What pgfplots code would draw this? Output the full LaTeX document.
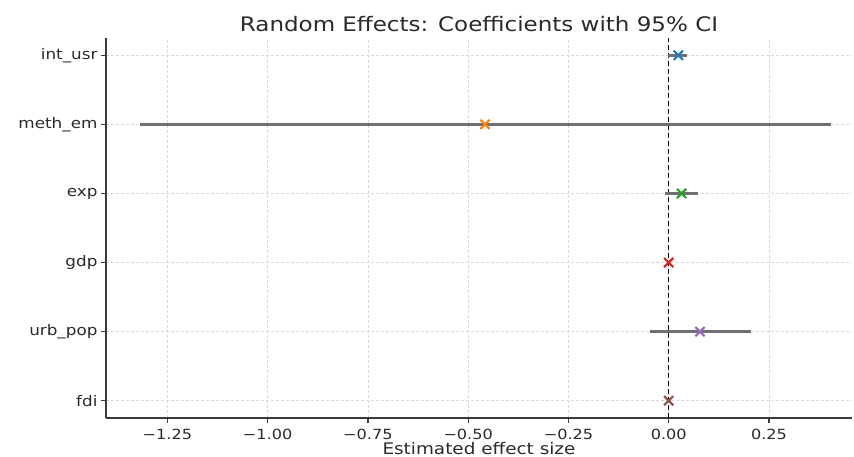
\documentclass[border=0pt]{standalone}
\usepackage{pgfplots}
\pgfplotsset{compat=1.18}
\usepackage{fontspec}
\setmainfont{DejaVu Sans}[FakeStretch=1.15]
\definecolor{tabblue}{HTML}{1F77B4}
\definecolor{taborange}{HTML}{FF7F0E}
\definecolor{tabgreen}{HTML}{2CA02C}
\definecolor{tabred}{HTML}{D62728}
\definecolor{tabpurple}{HTML}{9467BD}
\definecolor{tabbrown}{HTML}{8C564B}
\definecolor{cigray}{HTML}{707070}
\definecolor{spine}{HTML}{3A3A3A}
\definecolor{txt}{HTML}{2A2A2A}

\begin{document}
\begin{tikzpicture}[font=\fontsize{14}{16}\selectfont]
  \useasboundingbox (-106pt,-39pt) rectangle (748pt,418pt);
  \begin{axis}[
    at={(0pt,0pt)}, anchor=south west,
    scale only axis, width=746pt, height=380pt,
    xmin=-1.403, xmax=0.457, ymin=-0.25, ymax=5.25,
    axis x line*=bottom, axis y line*=left,
    axis line style={spine, line width=1.4pt},
    xtick={-1.25,-1,-0.75,-0.5,-0.25,0,0.25},
    xticklabels={−1.25,−1.00,−0.75,−0.50,−0.25,0.00,0.25},
    ytick={0,1,2,3,4,5},
    yticklabels={fdi,urb\_pop,gdp,exp,meth\_em,int\_usr},
    tick align=outside, major tick length=5pt,
    tick style={spine, line width=1.2pt},
    tick label style={text=txt},
    xticklabel style={yshift=-3pt},
    yticklabel style={font=\fontsize{14.6}{16}\selectfont},
    grid=major, grid style={gray!30, dash pattern=on 3pt off 2pt, line width=0.7pt},
    title={Random Effects: Coefficients with 95\% CI},
    title style={font=\fontsize{20}{23}\selectfont, text=txt, yshift=-3pt},
    xlabel={Estimated effect size},
    xlabel style={font=\fontsize{16}{19}\selectfont, text=txt, yshift=4.5pt},
    clip=false,
  ]
    % zero reference
    \addplot[black, dash pattern=on 5pt off 3pt, line width=1.5pt]
      coordinates {(0,-0.25) (0,5.25)};
    % confidence intervals
    \addplot[cigray, line width=2.8pt] coordinates {(-0.001,5) (0.045,5)};
    \addplot[cigray, line width=2.8pt] coordinates {(-1.318,4) (0.404,4)};
    \addplot[cigray, line width=2.8pt] coordinates {(-0.009,3) (0.074,3)};
    \addplot[cigray, line width=2.8pt] coordinates {(-0.002,2) (0.002,2)};
    \addplot[cigray, line width=2.8pt] coordinates {(-0.047,1) (0.204,1)};
    \addplot[cigray, line width=2.8pt] coordinates {(-0.002,0) (0.002,0)};
    % estimates
    \addplot[only marks, mark=x, mark size=6.5pt, tabblue, line width=2.2pt]
      coordinates {(0.024,5)};
    \addplot[only marks, mark=x, mark size=6.5pt, taborange, line width=2.2pt]
      coordinates {(-0.458,4)};
    \addplot[only marks, mark=x, mark size=6.5pt, tabgreen, line width=2.2pt]
      coordinates {(0.032,3)};
    \addplot[only marks, mark=x, mark size=6.5pt, tabred, line width=2.2pt]
      coordinates {(0.000,2)};
    \addplot[only marks, mark=x, mark size=6.5pt, tabpurple, line width=2.2pt]
      coordinates {(0.078,1)};
    \addplot[only marks, mark=x, mark size=6.5pt, tabbrown, line width=2.2pt]
      coordinates {(0.000,0)};
  \end{axis}
\end{tikzpicture}
\end{document}
